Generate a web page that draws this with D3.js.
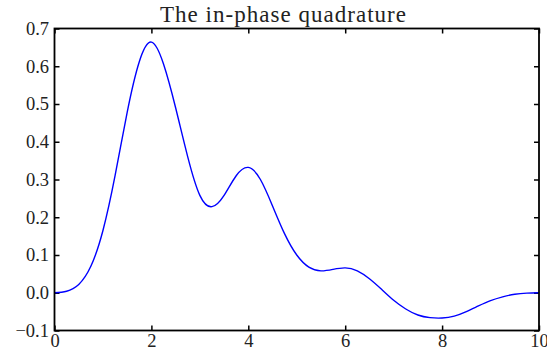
<!DOCTYPE html>
<html>
<head>
<meta charset="utf-8">
<script src="https://cdn.jsdelivr.net/npm/d3@7"></script>
<style>
  body { margin: 0; background: #fff; }
  svg { display: block; }
  text { font-family: "Liberation Serif", "Times New Roman", "Noto Serif", "DejaVu Serif", serif; }
  .tick text { font-size: 18.5px; fill: #222; }
  .tick line { stroke: #000; stroke-width: 1.5; }
</style>
</head>
<body>
<div id="chart"></div>
<script>
// values
const xs = [0, 0.25, 0.5, 0.75, 1, 1.25, 1.5, 1.75, 2, 2.25, 2.5, 2.75, 3, 3.25, 3.5, 3.75, 4,
  4.25, 4.5, 4.75, 5, 5.25, 5.5, 5.75, 6, 6.25, 6.5, 6.75, 7, 7.25, 7.5, 7.75, 8,
  8.25, 8.5, 8.75, 9, 9.25, 9.5, 9.75, 10];
const ys = [0.000, 0.004, 0.022, 0.070, 0.165, 0.310, 0.478, 0.612, 0.664, 0.606, 0.490, 0.360, 0.258, 0.228, 0.258, 0.310, 0.332,
  0.300, 0.230, 0.156, 0.100, 0.068, 0.058, 0.062, 0.066, 0.058, 0.037, 0.009, -0.020, -0.043, -0.059, -0.066, -0.067,
  -0.062, -0.050, -0.035, -0.021, -0.011, -0.004, -0.001, 0.000];
const xTicks = [0, 2, 4, 6, 8, 10];
const yTicks = [-0.1, 0.0, 0.1, 0.2, 0.3, 0.4, 0.5, 0.6, 0.7];
const title = "The in-phase quadrature";

const width = 547, height = 356;
const margin = { top: 28.5, right: 8, bottom: 25.5, left: 54.5 };
const iw = width - margin.left - margin.right,
  ih = height - margin.top - margin.bottom;

const svg = d3.select("#chart").append("svg")
  .attr("width", width)
  .attr("height", height);

const g = svg.append("g")
  .attr("transform", `translate(${margin.left},${margin.top})`);

const x = d3.scaleLinear().domain([0, 10]).range([0, iw]);
const y = d3.scaleLinear().domain([-0.1, 0.7]).range([ih, 0]);

const fmt = d => (d < 0 ? "\u2212" : "") + Math.abs(d).toFixed(1);

// bottom / top
g.append("g").attr("transform", `translate(0,${ih})`)
  .call(d3.axisBottom(x).tickValues(xTicks).tickSize(-5).tickPadding(3).tickFormat(d3.format("d")))
  .call(a => a.attr("font-family", null).select(".domain").remove());
g.append("g")
  .call(d3.axisTop(x).tickValues(xTicks).tickSize(-5).tickFormat(""))
  .call(a => a.select(".domain").remove());
// left / right
g.append("g")
  .call(d3.axisLeft(y).tickValues(yTicks).tickSize(-5).tickPadding(5.5).tickFormat(fmt))
  .call(a => a.attr("font-family", null).select(".domain").remove());
g.append("g").attr("transform", `translate(${iw},0)`)
  .call(d3.axisRight(y).tickValues(yTicks).tickSize(-5).tickFormat(""))
  .call(a => a.select(".domain").remove());

const data = xs.map((v, i) => ({ x: v, y: ys[i] }));
g.append("path")
  .datum(data)
  .attr("fill", "none")
  .attr("stroke", "#0000ff")
  .attr("stroke-width", 1.4)
  .attr("d", d3.line().x(d => x(d.x)).y(d => y(d.y)).curve(d3.curveNatural));

g.append("rect")
  .attr("width", iw).attr("height", ih)
  .attr("fill", "none")
  .attr("stroke", "#000")
  .attr("stroke-width", 1.8);

svg.append("text")
  .attr("x", 283).attr("y", 22)
  .attr("text-anchor", "middle")
  .attr("textLength", 246)
  .style("font-size", "23px")
  .style("fill", "#222")
  .text(title);
</script>
</body>
</html>
